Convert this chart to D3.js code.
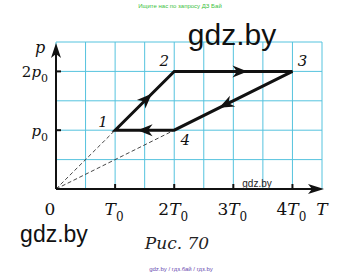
<!DOCTYPE html>
<html><head><meta charset="utf-8">
<script src="https://cdn.jsdelivr.net/npm/d3@7"></script>
<style>html,body{margin:0;padding:0;background:#fff;}svg{display:block;}</style>
</head><body>
<script>
// ---- data ----
const gridT = [0,0.5,1,1.5,2,2.5,3,3.5,4,4.5];
const gridP = [0,0.5,1,1.5,2,2.5];
const xTicks = [1,2,3,4];
const xLabelCoef = ["0","","2","3","4"];
const xLabelVals = [0,1,2,3,4];
const yTicks = [1,2];
const yLabelCoef = ["","2"];
const cycleNames = ["1","2","3","4"];
const cycleT = [1,2,4,2];
const cycleP = [1,2,2,1];
const isotherm = [[0,0],[1,1]];
const isotherm2 = [[0,0],[2,1]];

const W=362,H=275;
const svg=d3.select("body").append("svg").attr("width",W).attr("height",H);
const x=d3.scaleLinear().domain([0,4.5]).range([56,322]);
const y=d3.scaleLinear().domain([0,2.5]).range([189,42]);
const serif="'DejaVu Serif', serif";

// grid
const grid=svg.append("g").attr("stroke","#55c3de").attr("stroke-width",1);
grid.selectAll("line.v").data(gridT).join("line")
  .attr("x1",d=>x(d)).attr("x2",d=>x(d)).attr("y1",y(0)).attr("y2",y(2.5));
grid.selectAll("line.h").data(gridP).join("line")
  .attr("x1",x(0)).attr("x2",x(4.5)).attr("y1",d=>y(d)).attr("y2",d=>y(d));

// dashed lines from origin
[isotherm,isotherm2].forEach(seg=>{
  svg.append("line").attr("x1",x(seg[0][0])).attr("y1",y(seg[0][1]))
    .attr("x2",x(seg[1][0])).attr("y2",y(seg[1][1]))
    .attr("stroke","#333").attr("stroke-width",0.9).attr("stroke-dasharray","4,2.5");
});

// axes
svg.append("line").attr("x1",x(0)).attr("y1",y(0)).attr("x2",x(4.5)-6).attr("y2",y(0)).attr("stroke","#111").attr("stroke-width",2);
svg.append("line").attr("x1",x(0)).attr("y1",y(0)).attr("x2",x(0)).attr("y2",y(2.5)+8).attr("stroke","#111").attr("stroke-width",2);
function arrowHead(tx,ty,ang,len,half,notch){
  const p=[[0,0],[-len,-half],[-len+notch,0],[-len,half]];
  const c=Math.cos(ang),s=Math.sin(ang);
  const pts=p.map(([a,b])=>[tx+a*c-b*s,ty+a*s+b*c]);
  svg.append("path").attr("d","M"+pts.map(q=>q.join(",")).join("L")+"Z").attr("fill","#111");
}
arrowHead(x(4.5)+2,y(0),0,16,5,4);
arrowHead(x(0),y(2.5)+1,-Math.PI/2,15,5,4);

// ticks
svg.selectAll("line.xt").data(xTicks).join("line")
  .attr("x1",d=>x(d)).attr("x2",d=>x(d)).attr("y1",y(0)).attr("y2",y(0)-5)
  .attr("stroke","#111").attr("stroke-width",2);
svg.selectAll("line.yt").data(yTicks).join("line")
  .attr("x1",x(0)).attr("x2",x(0)+5).attr("y1",d=>y(d)).attr("y2",d=>y(d))
  .attr("stroke","#111").attr("stroke-width",2);

// cycle
const pts=cycleT.map((t,i)=>[x(t),y(cycleP[i])]);
svg.append("path").attr("d","M"+pts.map(q=>q.join(",")).join("L")+"Z")
  .attr("fill","none").attr("stroke","#111").attr("stroke-width",3).attr("stroke-linejoin","miter");
pts.forEach((a,i)=>{
  const b=pts[(i+1)%pts.length];
  const f=0.62;
  const tx=a[0]+(b[0]-a[0])*f, ty=a[1]+(b[1]-a[1])*f;
  arrowHead(tx,ty,Math.atan2(b[1]-a[1],b[0]-a[0]),15,6,4.5);
});

// point labels
const labOff=[[-12,-3],[-10,-5],[10,-5],[11,15]];
pts.forEach((q,i)=>{
  svg.append("text").attr("x",q[0]+labOff[i][0]).attr("y",q[1]+labOff[i][1])
    .attr("text-anchor","middle").attr("font-family",serif).attr("font-style","italic")
    .attr("font-size",15).attr("fill","#111").text(cycleNames[i]);
});

// x labels
xLabelVals.forEach((v,i)=>{
  const t=svg.append("text").attr("x",x(v)-(v===0?6:1)).attr("y",215)
    .attr("text-anchor","middle").attr("font-family",serif).attr("font-size",17).attr("fill","#111");
  if(v===0){t.text("0");return;}
  if(xLabelCoef[i]) t.append("tspan").text(xLabelCoef[i]);
  t.append("tspan").attr("font-style","italic").text("T");
  t.append("tspan").attr("font-size",12).attr("dy",6).text("0");
});
svg.append("text").attr("x",322).attr("y",215).attr("text-anchor","middle")
  .attr("font-family",serif).attr("font-style","italic").attr("font-size",17).attr("fill","#111").text("T");

// y labels
yTicks.forEach((v,i)=>{
  const t=svg.append("text").attr("x",48).attr("y",y(v)+6)
    .attr("text-anchor","end").attr("font-family",serif).attr("font-size",15).attr("fill","#111");
  if(yLabelCoef[i]) t.append("tspan").text(yLabelCoef[i]);
  t.append("tspan").attr("font-style","italic").text("p");
  t.append("tspan").attr("font-size",11).attr("dy",5).text("0");
});
svg.append("text").attr("x",40).attr("y",53).attr("text-anchor","middle")
  .attr("font-family",serif).attr("font-style","italic").attr("font-size",16).attr("fill","#111").text("p");

// caption
svg.append("text").attr("x",177).attr("y",249).attr("text-anchor","middle")
  .attr("font-family",serif).attr("font-style","italic").attr("font-size",17).attr("fill","#222").text("Рис. 70");

// watermarks
const sans="'Liberation Sans', Arial, sans-serif";
svg.append("text").attr("x",232).attr("y",45).attr("text-anchor","middle").attr("font-family",sans).attr("font-size",30).attr("fill","#111").text("gdz.by");
svg.append("text").attr("x",54).attr("y",242).attr("text-anchor","middle").attr("font-family",sans).attr("font-size",23).attr("fill","#111").text("gdz.by");
svg.append("text").attr("x",257).attr("y",187).attr("text-anchor","middle").attr("font-family",sans).attr("font-size",10).attr("fill","#222").text("gdz.by");
svg.append("text").attr("x",180).attr("y",8).attr("text-anchor","middle").attr("font-family",sans).attr("font-size",6).attr("fill","#3cc23c").text("Ищите нас по запросу ДЗ Бай");
svg.append("text").attr("x",181).attr("y",271).attr("text-anchor","middle").attr("font-family",sans).attr("font-size",6).attr("fill","#6a4bb0").text("gdz.by / гдз.бай / гдз.by");
</script>
</body></html>
